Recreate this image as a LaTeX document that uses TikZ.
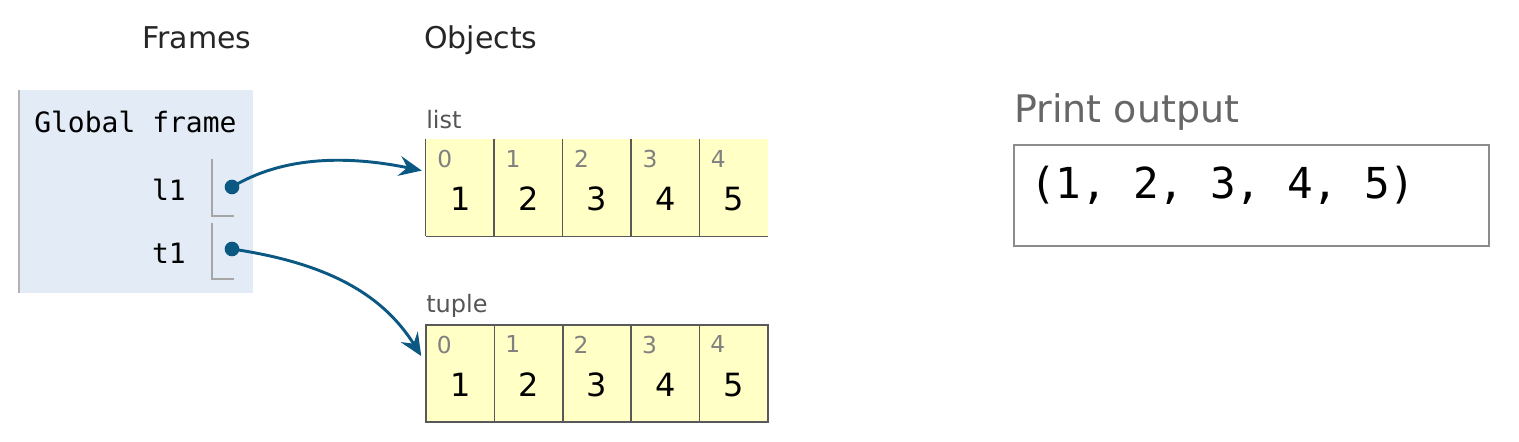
\documentclass[tikz,border=0pt]{standalone}
\usepackage{fontspec}
\setmainfont{DejaVu Sans}
\setmonofont{DejaVu Sans Mono}
\usetikzlibrary{arrows.meta,positioning}
\definecolor{FrameBG}{HTML}{E2EBF6}
\definecolor{HeapBG}{HTML}{FFFFC6}
\definecolor{PtrBlue}{HTML}{0B5883}
\definecolor{LabelGray}{HTML}{555555}

\begin{document}
\begin{tikzpicture}[x=0.75pt, y=-0.75pt]
		\tikzstyle{Head} 	= [font=\fontsize{22.5}{27}\selectfont, text=black!85, inner sep=0pt]
		\tikzstyle{TypeName}	= [font=\fontsize{18}{21}\selectfont, text=LabelGray, anchor=base west, inner sep=0pt]
		\tikzstyle{Var}		= [font=\ttfamily\fontsize{21}{25}\selectfont, anchor=base east, inner sep=0pt]
		\tikzstyle{Cell}	= [rectangle, fill=HeapBG, minimum width=51.3pt, minimum height=73pt, inner sep=0pt]
		\tikzstyle{Idx}		= [font=\fontsize{17.5}{20}\selectfont, text=black!50, anchor=north west, inner sep=0pt]
		\tikzstyle{Val}		= [font=\fontsize{24}{28}\selectfont, inner sep=0pt]
		\tikzstyle{Dot}		= [circle, fill=PtrBlue, minimum size=11pt, inner sep=0pt]
		\tikzstyle{Pointer}	= [-{Stealth[length=17pt, width=15pt, inset=6pt]}, PtrBlue, line width=2.2pt]
		\tikzstyle{Edge}	= [draw=black!65, line width=1.1pt]
		\tikzstyle{Slot}	= [black!35, line width=1.1pt]

		\useasboundingbox (0,0) rectangle (1519,442);

		% frames
		\node (frames) at (197,49) [Head, anchor=base] {Frames};
		\node (objects) at (424,49) [Head, anchor=base west] {Objects};
		\node (gf) at (136,191.5) [rectangle, fill=FrameBG, minimum width=175.5pt, minimum height=152.25pt, inner sep=0pt] {};
		\draw [black!30, line width=1.5pt] (gf.north west) -- (gf.south west);
		\node (gfname) at (34,133) [anchor=base west, inner sep=0pt, font=\ttfamily\fontsize{21}{25}\selectfont] {Global frame};
		\node (l1) at (186,200) [Var] {l1};
		\node (t1) at (186,263) [Var] {t1};
		\draw [Slot] (212,159) -- (212,216) -- (234,216);
		\draw [Slot] (212,223) -- (212,279) -- (234,279);
		\node (p1) at (232,187) [Dot] {};
		\node (p2) at (232,249) [Dot] {};

		% objects
		\node (lname) at (426,129) [TypeName] {list};
		\node (tname) at (426,312) [TypeName] {tuple};
		\foreach \i in {0,...,4} {
			\pgfmathtruncatemacro\v{\i+1}
			\node (L\i) at (460.2+68.4*\i, 187.5) [Cell] {};
			\node (Li\i) at ([xshift=8.5pt, yshift=-8.5pt]L\i.north west) [Idx] {\i};
			\node (Lv\i) at ([yshift=-8.6pt]L\i.center) [Val] {\v};
			\node (T\i) at (460.2+68.4*\i, 373.5) [Cell, Edge] {};
			\node (Ti\i) at ([xshift=8.5pt, yshift=-8.5pt]T\i.north west) [Idx] {\i};
			\node (Tv\i) at ([yshift=-8.6pt]T\i.center) [Val] {\v};
			\draw [Edge] (L\i.north west) -- (L\i.south west);
		}
		\draw [Edge] (L0.south west) -- (L4.south east);

		\coordinate (la) at ([xshift=-3pt, yshift=-24pt]L0.north west);
		\coordinate (ta) at ([xshift=-3pt, yshift=-24pt]T0.north west);
		\draw [Pointer] (p1.center) .. controls (290,152) and (360,158) .. (la);
		\draw [Pointer] (p2.center) .. controls (320,262) and (380,290) .. (ta);

		% print output
		\node (pname) at (1014,123) [anchor=base west, inner sep=0pt, text=black!60, font=\fontsize{28.5}{33}\selectfont] {Print output};
		\node (pbox) at (1251.5,195.5) [rectangle, draw=black!45, line width=1.5pt, minimum width=356.25pt, minimum height=75.75pt, inner sep=0pt] {};
		\node (ptext) at (1030,198) [anchor=base west, inner sep=0pt, font=\ttfamily\fontsize{32}{38}\selectfont] {(1, 2, 3, 4, 5)};
\end{tikzpicture}
\end{document}
